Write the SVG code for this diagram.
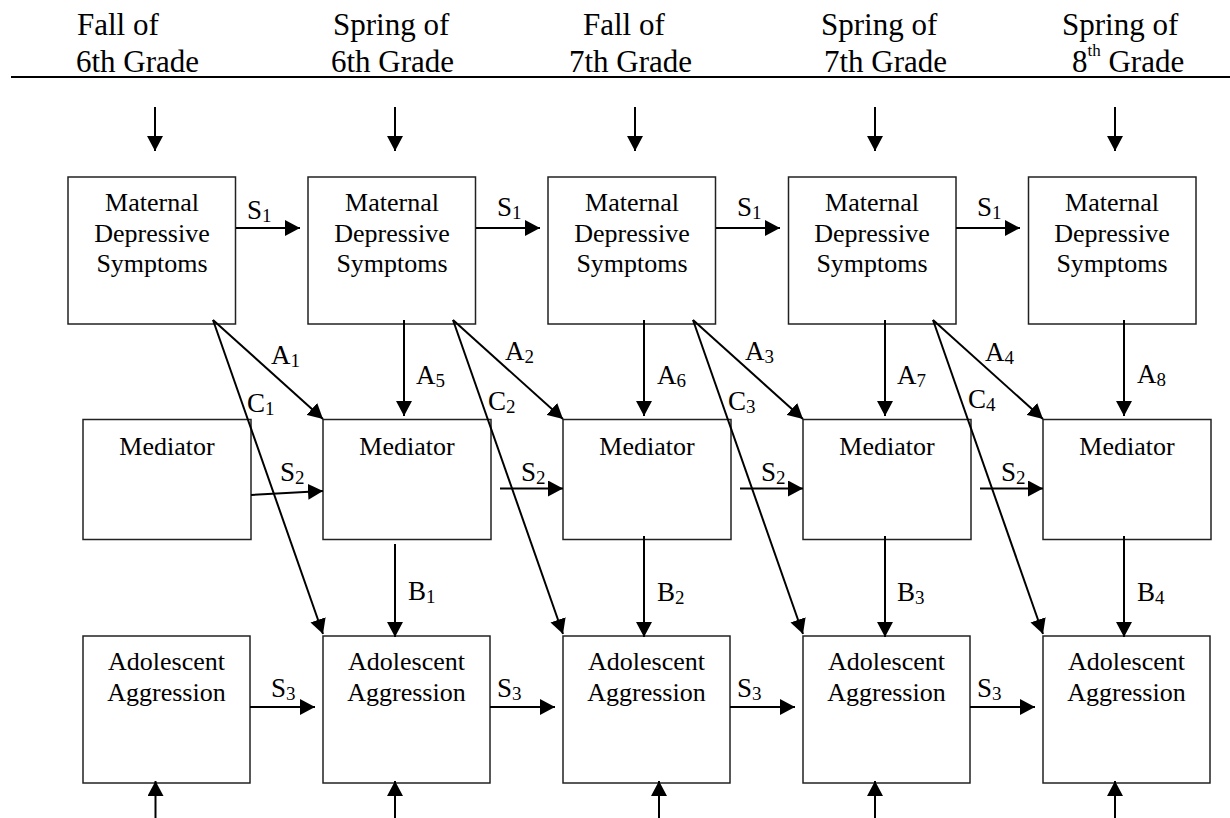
<svg xmlns="http://www.w3.org/2000/svg" width="1230" height="818" viewBox="0 0 1230 818" font-family="'Liberation Serif','Times New Roman',serif">
<style>
.hd{font-size:31px}
.bx{font-size:26px;text-anchor:middle}
.lb{font-size:27px}
.sb{font-size:19px}
rect{fill:#fff;stroke:#222;stroke-width:1.5}
.c line{stroke:#000;stroke-width:2;marker-end:url(#ah)}
</style>
<defs>
<marker id="ah" markerUnits="userSpaceOnUse" markerWidth="16" markerHeight="16" refX="15" refY="8" orient="auto" viewBox="0 0 16 16">
<path d="M0,0 L15,8 L0,16 z" fill="#000"/>
</marker>
</defs>
<rect width="1230" height="818" fill="#fff" style="stroke:none"/>
<g id="header" font-family="Liberation Serif">
<line x1="11" y1="77" x2="1230" y2="77" stroke="#000" stroke-width="2"/>
<text class="hd" x="77" y="35">Fall of</text>
<text class="hd" x="76" y="72">6th Grade</text>
<text class="hd" x="333" y="35">Spring of</text>
<text class="hd" x="331" y="72">6th Grade</text>
<text class="hd" x="583" y="35">Fall of</text>
<text class="hd" x="569" y="72">7th Grade</text>
<text class="hd" x="821" y="35">Spring of</text>
<text class="hd" x="824" y="72">7th Grade</text>
<text class="hd" x="1062" y="35">Spring of</text>
<text class="hd" x="1072" y="72">8<tspan font-size="17" dy="-16">th</tspan><tspan dy="16"> Grade</tspan></text>
</g>
<g id="mds1" font-family="Liberation Serif"><rect x="68" y="177" width="167.5" height="147"/><text class="bx" x="152" y="211">Maternal</text><text class="bx" x="152" y="241.5">Depressive</text><text class="bx" x="152" y="271.5">Symptoms</text></g>
<g id="mds2" font-family="Liberation Serif"><rect x="308" y="177" width="167.5" height="147"/><text class="bx" x="392" y="211">Maternal</text><text class="bx" x="392" y="241.5">Depressive</text><text class="bx" x="392" y="271.5">Symptoms</text></g>
<g id="mds3" font-family="Liberation Serif"><rect x="548" y="177" width="167.5" height="147"/><text class="bx" x="632" y="211">Maternal</text><text class="bx" x="632" y="241.5">Depressive</text><text class="bx" x="632" y="271.5">Symptoms</text></g>
<g id="mds4" font-family="Liberation Serif"><rect x="788.5" y="177" width="167.5" height="147"/><text class="bx" x="872" y="211">Maternal</text><text class="bx" x="872" y="241.5">Depressive</text><text class="bx" x="872" y="271.5">Symptoms</text></g>
<g id="mds5" font-family="Liberation Serif"><rect x="1028.5" y="177" width="167.5" height="147"/><text class="bx" x="1112" y="211">Maternal</text><text class="bx" x="1112" y="241.5">Depressive</text><text class="bx" x="1112" y="271.5">Symptoms</text></g>
<g id="med1" font-family="Liberation Serif"><rect x="83" y="419.5" width="168" height="120"/><text class="bx" x="167" y="455">Mediator</text></g>
<g id="med2" font-family="Liberation Serif"><rect x="323" y="419.5" width="168" height="120"/><text class="bx" x="407" y="455">Mediator</text></g>
<g id="med3" font-family="Liberation Serif"><rect x="563" y="419.5" width="168" height="120"/><text class="bx" x="647" y="455">Mediator</text></g>
<g id="med4" font-family="Liberation Serif"><rect x="803" y="419.5" width="168" height="120"/><text class="bx" x="887" y="455">Mediator</text></g>
<g id="med5" font-family="Liberation Serif"><rect x="1043" y="419.5" width="168" height="120"/><text class="bx" x="1127" y="455">Mediator</text></g>
<g id="agg1" font-family="Liberation Serif"><rect x="83" y="636" width="167" height="147"/><text class="bx" x="166.5" y="670">Adolescent</text><text class="bx" x="166.5" y="701">Aggression</text></g>
<g id="agg2" font-family="Liberation Serif"><rect x="323" y="636" width="167" height="147"/><text class="bx" x="406.5" y="670">Adolescent</text><text class="bx" x="406.5" y="701">Aggression</text></g>
<g id="agg3" font-family="Liberation Serif"><rect x="563" y="636" width="167" height="147"/><text class="bx" x="646.5" y="670">Adolescent</text><text class="bx" x="646.5" y="701">Aggression</text></g>
<g id="agg4" font-family="Liberation Serif"><rect x="803" y="636" width="167" height="147"/><text class="bx" x="886.5" y="670">Adolescent</text><text class="bx" x="886.5" y="701">Aggression</text></g>
<g id="agg5" font-family="Liberation Serif"><rect x="1043" y="636" width="167" height="147"/><text class="bx" x="1126.5" y="670">Adolescent</text><text class="bx" x="1126.5" y="701">Aggression</text></g>
<g id="connectors" class="c">
<line x1="155" y1="107" x2="155" y2="151"/>
<line x1="395" y1="107" x2="395" y2="151"/>
<line x1="635" y1="107" x2="635" y2="151"/>
<line x1="875" y1="107" x2="875" y2="151"/>
<line x1="1115" y1="107" x2="1115" y2="151"/>
<line x1="236" y1="228" x2="300" y2="228"/>
<line x1="476" y1="228" x2="540" y2="228"/>
<line x1="716" y1="228" x2="780" y2="228"/>
<line x1="956" y1="228" x2="1020" y2="228"/>
<line x1="213" y1="320" x2="323" y2="419"/>
<line x1="453" y1="320" x2="563" y2="419"/>
<line x1="693" y1="320" x2="803" y2="419"/>
<line x1="933" y1="320" x2="1043" y2="419"/>
<line x1="213" y1="320" x2="323" y2="634"/>
<line x1="453" y1="320" x2="563" y2="634"/>
<line x1="693" y1="320" x2="803" y2="634"/>
<line x1="933" y1="320" x2="1043" y2="634"/>
<line x1="404" y1="320" x2="404" y2="416"/>
<line x1="644" y1="320" x2="644" y2="416"/>
<line x1="885" y1="320" x2="885" y2="416"/>
<line x1="1124" y1="320" x2="1124" y2="416"/>
<line x1="251" y1="495" x2="323" y2="491"/>
<line x1="500" y1="488.5" x2="563" y2="488.5"/>
<line x1="740" y1="488.5" x2="803" y2="488.5"/>
<line x1="980" y1="488.5" x2="1043" y2="488.5"/>
<line x1="395" y1="544" x2="395" y2="637"/>
<line x1="644" y1="536" x2="644" y2="637"/>
<line x1="885" y1="536" x2="885" y2="637"/>
<line x1="1124" y1="536" x2="1124" y2="637"/>
<line x1="250" y1="707" x2="315" y2="707"/>
<line x1="490" y1="707" x2="555" y2="707"/>
<line x1="730" y1="707" x2="795" y2="707"/>
<line x1="970" y1="707" x2="1035" y2="707"/>
<line x1="155.5" y1="820" x2="155.5" y2="781"/>
<line x1="395" y1="820" x2="395" y2="781"/>
<line x1="659" y1="820" x2="659" y2="781"/>
<line x1="875" y1="820" x2="875" y2="781"/>
<line x1="1115" y1="820" x2="1115" y2="781"/>
</g>
<g id="labels" font-family="Liberation Serif">
<text class="lb" x="247" y="219">S<tspan class="sb" dy="3">1</tspan></text>
<text class="lb" x="497" y="216">S<tspan class="sb" dy="3">1</tspan></text>
<text class="lb" x="737" y="216">S<tspan class="sb" dy="3">1</tspan></text>
<text class="lb" x="977" y="216">S<tspan class="sb" dy="3">1</tspan></text>
<text class="lb" x="271" y="364">A<tspan class="sb" dy="3">1</tspan></text>
<text class="lb" x="505" y="360">A<tspan class="sb" dy="3">2</tspan></text>
<text class="lb" x="745" y="360">A<tspan class="sb" dy="3">3</tspan></text>
<text class="lb" x="985" y="361">A<tspan class="sb" dy="3">4</tspan></text>
<text class="lb" x="416" y="384">A<tspan class="sb" dy="3">5</tspan></text>
<text class="lb" x="657" y="384">A<tspan class="sb" dy="3">6</tspan></text>
<text class="lb" x="897" y="384">A<tspan class="sb" dy="3">7</tspan></text>
<text class="lb" x="1137" y="383">A<tspan class="sb" dy="3">8</tspan></text>
<text class="lb" x="247" y="412">C<tspan class="sb" dy="3">1</tspan></text>
<text class="lb" x="488" y="410">C<tspan class="sb" dy="3">2</tspan></text>
<text class="lb" x="728" y="410">C<tspan class="sb" dy="3">3</tspan></text>
<text class="lb" x="968" y="408">C<tspan class="sb" dy="3">4</tspan></text>
<text class="lb" x="280" y="481">S<tspan class="sb" dy="3">2</tspan></text>
<text class="lb" x="521" y="481">S<tspan class="sb" dy="3">2</tspan></text>
<text class="lb" x="761" y="481">S<tspan class="sb" dy="3">2</tspan></text>
<text class="lb" x="1001" y="481">S<tspan class="sb" dy="3">2</tspan></text>
<text class="lb" x="408" y="600">B<tspan class="sb" dy="3">1</tspan></text>
<text class="lb" x="657" y="601">B<tspan class="sb" dy="3">2</tspan></text>
<text class="lb" x="897" y="601">B<tspan class="sb" dy="3">3</tspan></text>
<text class="lb" x="1137" y="601">B<tspan class="sb" dy="3">4</tspan></text>
<text class="lb" x="271" y="697">S<tspan class="sb" dy="3">3</tspan></text>
<text class="lb" x="497" y="697">S<tspan class="sb" dy="3">3</tspan></text>
<text class="lb" x="737" y="697">S<tspan class="sb" dy="3">3</tspan></text>
<text class="lb" x="977" y="697">S<tspan class="sb" dy="3">3</tspan></text>
</g>
</svg>
